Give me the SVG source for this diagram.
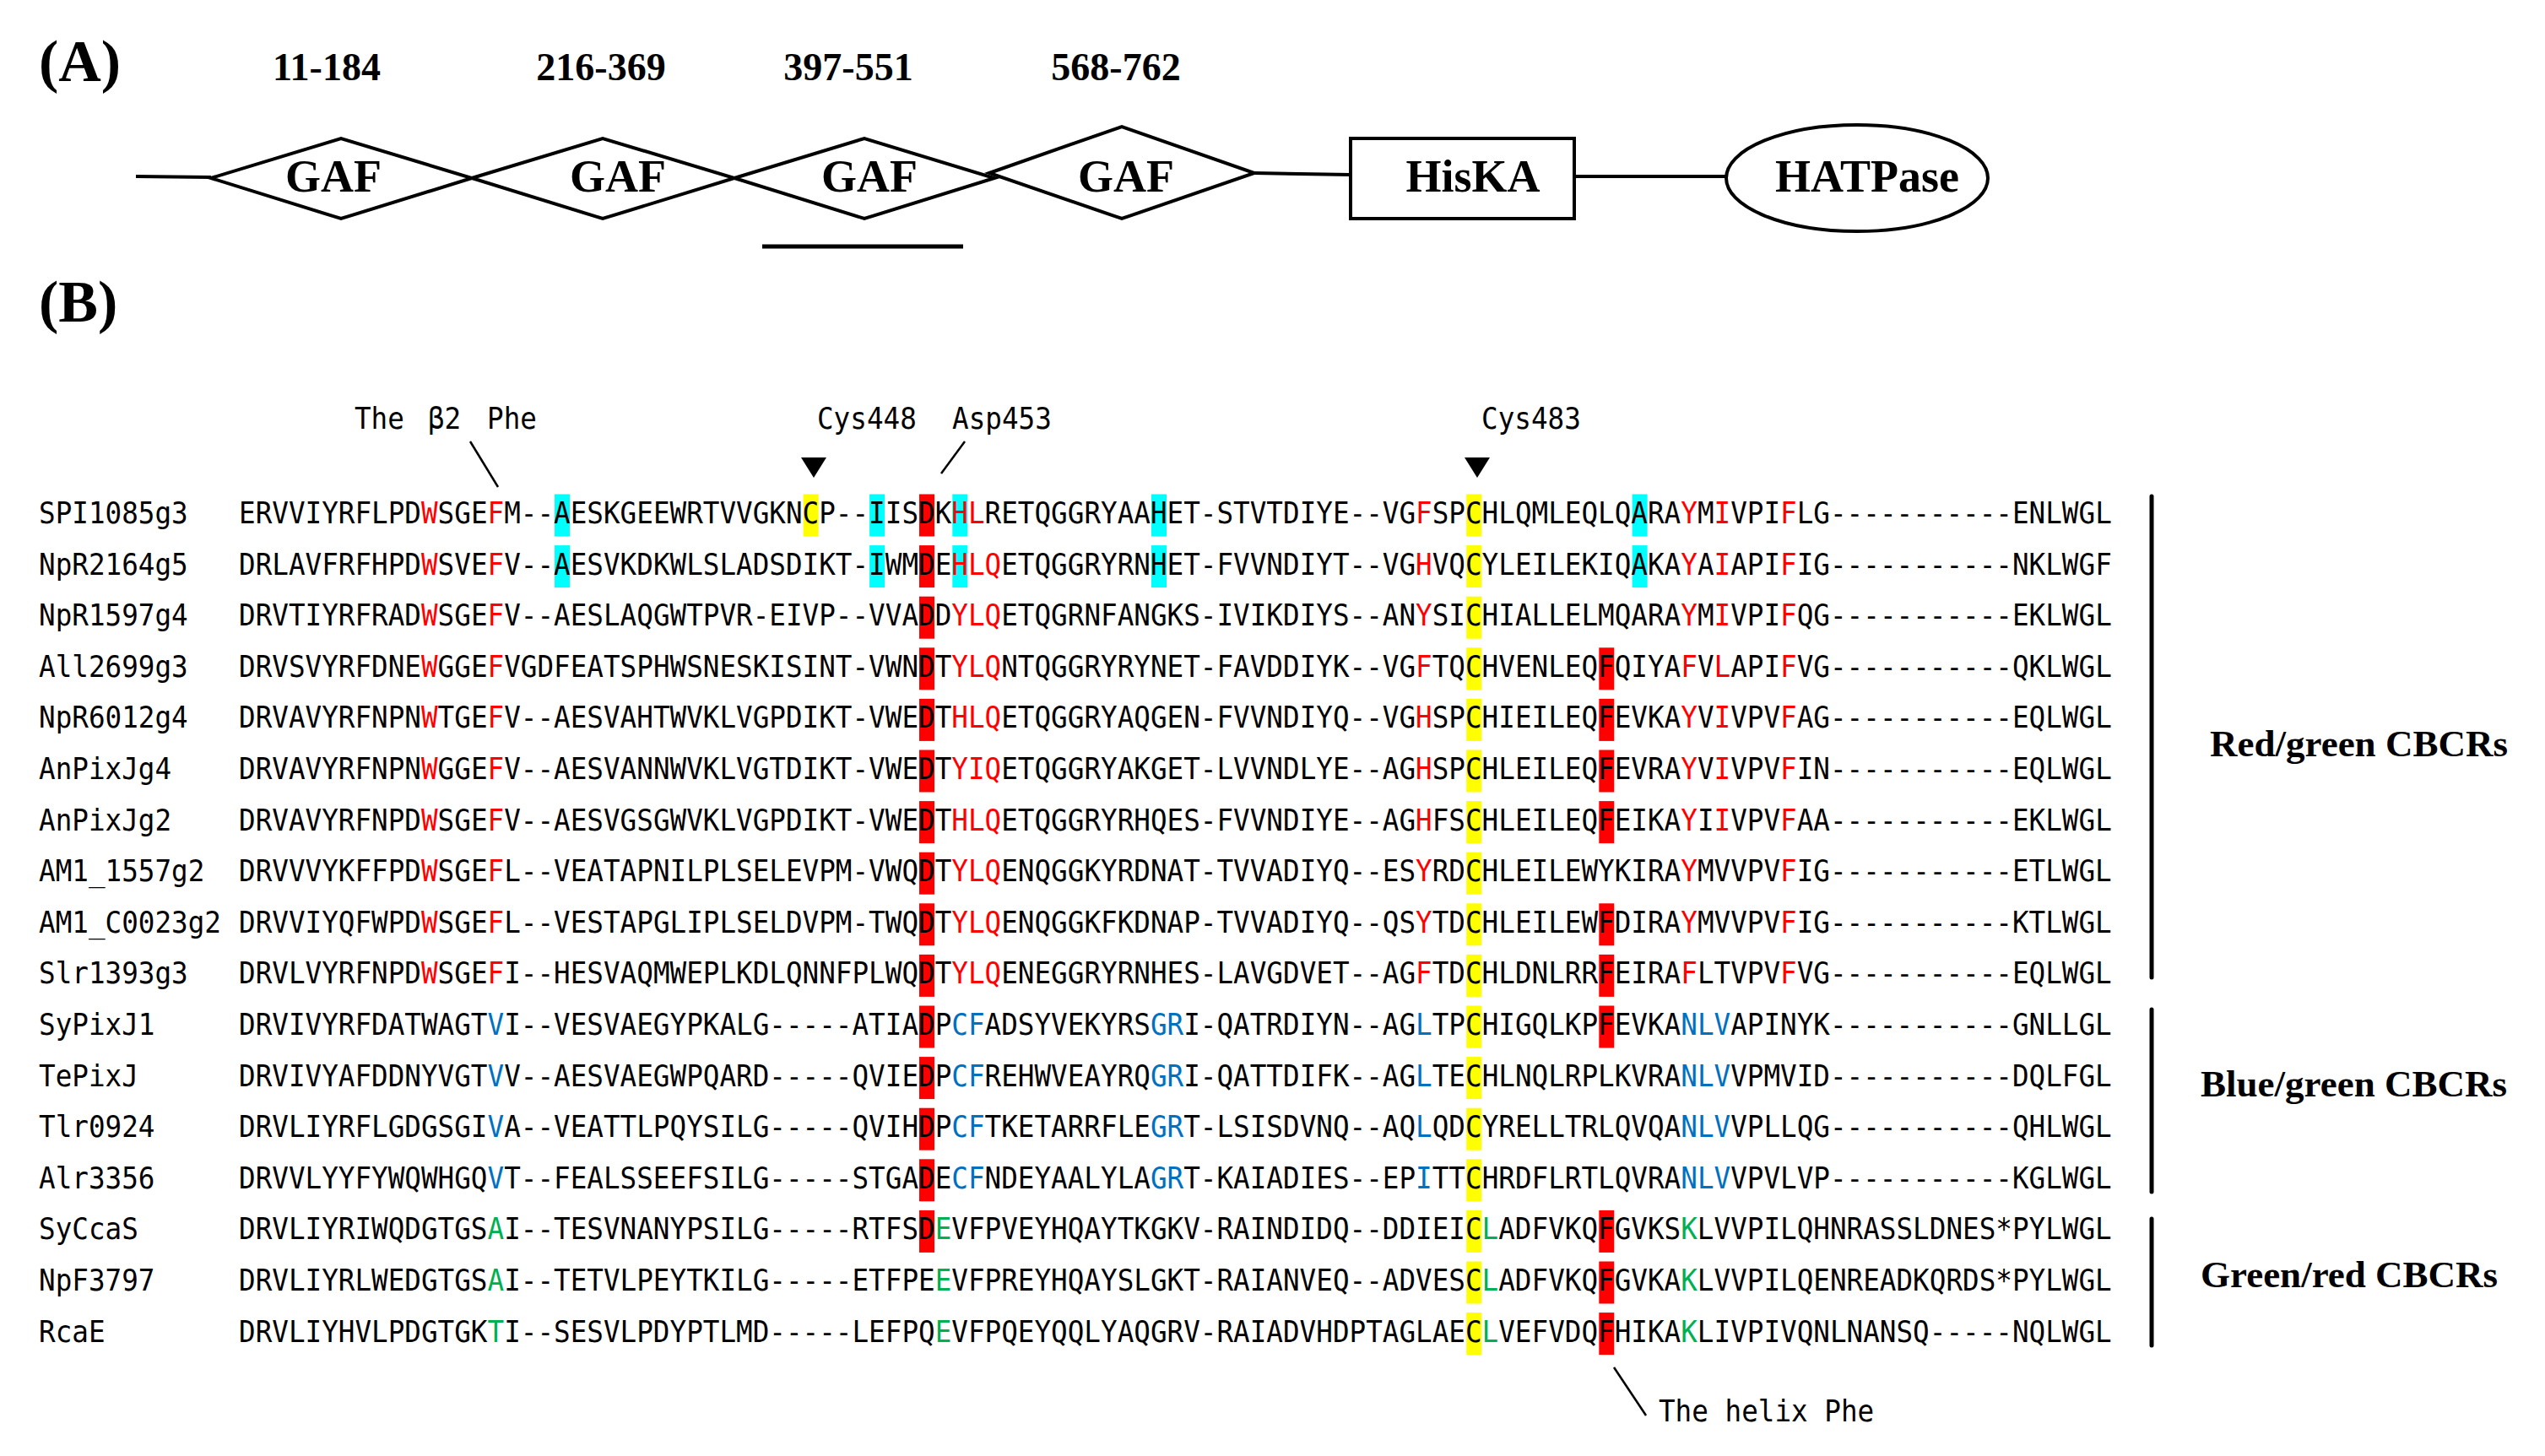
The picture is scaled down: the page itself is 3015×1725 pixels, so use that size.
<svg xmlns="http://www.w3.org/2000/svg" width="3015" height="1725" viewBox="0 0 3015 1725">
<style>
.bg{fill:#fff}
.shape{fill:#fff;stroke:#000;stroke-width:4}
.ln{stroke:#000;stroke-width:4;fill:none}
.ptr{stroke:#000;stroke-width:2.5;fill:none}
.brk{stroke:#000;stroke-width:5;stroke-linecap:round}
.tb{font-family:"Liberation Serif","Times New Roman",serif;font-weight:bold;fill:#000}
.lab{font-size:46px;text-anchor:middle}
.dom{font-size:54px;text-anchor:middle}
.pan{font-size:70px}
.grp{font-size:45px}
.mono{font-family:"DejaVu Sans Mono","Liberation Mono",monospace;font-size:36px;fill:#000}
.r{fill:#ff0000}
.b{fill:#0070c0}
.g{fill:#00b050}
.hc{fill:#00ffff}
.hy{fill:#ffff00}
.hr{fill:#ff0000}
</style>
<rect class="bg" x="0" y="0" width="3015" height="1725"/>

<!-- Panel A -->
<text class="tb pan" x="46" y="96">(A)</text>
<text class="tb lab" x="387" y="95">11-184</text>
<text class="tb lab" x="712" y="95">216-369</text>
<text class="tb lab" x="1005" y="95">397-551</text>
<text class="tb lab" x="1322" y="95">568-762</text>

<g id="connectors">
<line class="ln" x1="161" y1="209" x2="250" y2="210"/>
<line class="ln" x1="1486" y1="205" x2="1600" y2="207"/>
<line class="ln" x1="1865" y1="209" x2="2045" y2="209"/>
<line x1="903" y1="292" x2="1141" y2="292" stroke="#000" stroke-width="5"/>
<line class="ptr" x1="557" y1="523" x2="590" y2="577"/>
<line class="ptr" x1="1143" y1="523" x2="1115" y2="561"/>
<line class="ptr" x1="1912" y1="1620" x2="1950" y2="1677"/>
</g>

<g id="gaf1"><polygon class="shape" points="250,211 404,164 559,211 404,259"/><text class="tb dom" x="395" y="227">GAF</text></g>
<g id="gaf2"><polygon class="shape" points="559,211 714,164 870,211 714,259"/><text class="tb dom" x="732" y="227">GAF</text></g>
<g id="gaf3"><polygon class="shape" points="870,211 1024,164 1178,211 1024,259"/><text class="tb dom" x="1030" y="227">GAF</text></g>
<g id="gaf4"><polygon class="shape" points="1172,205 1329,150 1486,205 1329,259"/><text class="tb dom" x="1334" y="227">GAF</text></g>
<g id="hiska"><rect class="shape" x="1600" y="164" width="265" height="95"/><text class="tb dom" x="1745" y="227">HisKA</text></g>
<g id="hatpase"><ellipse class="shape" cx="2200" cy="211" rx="155" ry="63"/><text class="tb dom" x="2212" y="227">HATPase</text></g>

<!-- Panel B -->
<text class="tb pan" x="46" y="381">(B)</text>

<g id="markers">
<polygon points="949,542 979,542 964,566" fill="#000"/>
<polygon points="1735,542 1765,542 1750,566" fill="#000"/>
</g>

<g id="highlights">
<!-- row1 -->
<rect class="hc" x="657" y="585.5" width="18" height="50"/>
<rect class="hy" x="951.6" y="585.5" width="18" height="50"/>
<rect class="hc" x="1030.1" y="585.5" width="18" height="50"/>
<rect class="hr" x="1089" y="585.5" width="18" height="50"/>
<rect class="hc" x="1128.3" y="585.5" width="18" height="50"/>
<rect class="hc" x="1364" y="585.5" width="18" height="50"/>
<rect class="hy" x="1737.2" y="585.5" width="18" height="50"/>
<rect class="hc" x="1933.6" y="585.5" width="18" height="50"/>
<!-- row2 -->
<rect class="hc" x="657" y="646.1" width="18" height="50"/>
<rect class="hc" x="1030.1" y="646.1" width="18" height="50"/>
<rect class="hr" x="1089" y="646.1" width="18" height="50"/>
<rect class="hc" x="1128.3" y="646.1" width="18" height="50"/>
<rect class="hc" x="1364" y="646.1" width="18" height="50"/>
<rect class="hy" x="1737.2" y="646.1" width="18" height="50"/>
<rect class="hc" x="1933.6" y="646.1" width="18" height="50"/>
<!-- row3 -->
<rect class="hr" x="1089" y="706.7" width="18" height="50"/>
<rect class="hy" x="1737.2" y="706.7" width="18" height="50"/>
<!-- row4 -->
<rect class="hr" x="1089" y="767.3" width="18" height="50"/>
<rect class="hy" x="1737.2" y="767.3" width="18" height="50"/>
<rect class="hr" x="1894.3" y="767.3" width="18" height="50"/>
<!-- row5 -->
<rect class="hr" x="1089" y="827.9" width="18" height="50"/>
<rect class="hy" x="1737.2" y="827.9" width="18" height="50"/>
<rect class="hr" x="1894.3" y="827.9" width="18" height="50"/>
<!-- row6 -->
<rect class="hr" x="1089" y="888.5" width="18" height="50"/>
<rect class="hy" x="1737.2" y="888.5" width="18" height="50"/>
<rect class="hr" x="1894.3" y="888.5" width="18" height="50"/>
<!-- row7 -->
<rect class="hr" x="1089" y="949.1" width="18" height="50"/>
<rect class="hy" x="1737.2" y="949.1" width="18" height="50"/>
<rect class="hr" x="1894.3" y="949.1" width="18" height="50"/>
<!-- row8 -->
<rect class="hr" x="1089" y="1009.7" width="18" height="50"/>
<rect class="hy" x="1737.2" y="1009.7" width="18" height="50"/>
<!-- row9 -->
<rect class="hr" x="1089" y="1070.3" width="18" height="50"/>
<rect class="hy" x="1737.2" y="1070.3" width="18" height="50"/>
<rect class="hr" x="1894.3" y="1070.3" width="18" height="50"/>
<!-- row10 -->
<rect class="hr" x="1089" y="1130.9" width="18" height="50"/>
<rect class="hy" x="1737.2" y="1130.9" width="18" height="50"/>
<rect class="hr" x="1894.3" y="1130.9" width="18" height="50"/>
<!-- row11 -->
<rect class="hr" x="1089" y="1191.5" width="18" height="50"/>
<rect class="hy" x="1737.2" y="1191.5" width="18" height="50"/>
<rect class="hr" x="1894.3" y="1191.5" width="18" height="50"/>
<!-- row12 -->
<rect class="hr" x="1089" y="1252.1" width="18" height="50"/>
<rect class="hy" x="1737.2" y="1252.1" width="18" height="50"/>
<!-- row13 -->
<rect class="hr" x="1089" y="1312.7" width="18" height="50"/>
<rect class="hy" x="1737.2" y="1312.7" width="18" height="50"/>
<!-- row14 -->
<rect class="hr" x="1089" y="1373.3" width="18" height="50"/>
<rect class="hy" x="1737.2" y="1373.3" width="18" height="50"/>
<!-- row15 -->
<rect class="hr" x="1089" y="1433.9" width="18" height="50"/>
<rect class="hy" x="1737.2" y="1433.9" width="18" height="50"/>
<rect class="hr" x="1894.3" y="1433.9" width="18" height="50"/>
<!-- row16 -->
<rect class="hy" x="1737.2" y="1494.5" width="18" height="50"/>
<rect class="hr" x="1894.3" y="1494.5" width="18" height="50"/>
<!-- row17 -->
<rect class="hy" x="1737.2" y="1555.1" width="18" height="50"/>
<rect class="hr" x="1894.3" y="1555.1" width="18" height="50"/>
</g>

<g id="alignment" transform="scale(0.9061 1)">
<text class="mono" x="463.5" y="508">The<tspan x="559.5">β2</tspan><tspan x="636.8">Phe</tspan></text>
<text class="mono" x="1068.3" y="508">Cys448</text>
<text class="mono" x="1244.9" y="508">Asp453</text>
<text class="mono" x="1936.9" y="508">Cys483</text>
<text class="mono" x="2168.6" y="1684">The helix Phe</text>

<g id="names">
<text class="mono" x="50.77" y="620">SPI1085g3</text>
<text class="mono" x="50.77" y="680.6">NpR2164g5</text>
<text class="mono" x="50.77" y="741.2">NpR1597g4</text>
<text class="mono" x="50.77" y="801.8">All2699g3</text>
<text class="mono" x="50.77" y="862.4">NpR6012g4</text>
<text class="mono" x="50.77" y="923">AnPixJg4</text>
<text class="mono" x="50.77" y="983.6">AnPixJg2</text>
<text class="mono" x="50.77" y="1044.2">AM1_1557g2</text>
<text class="mono" x="50.77" y="1104.8">AM1_C0023g2</text>
<text class="mono" x="50.77" y="1165.4">Slr1393g3</text>
<text class="mono" x="50.77" y="1226">SyPixJ1</text>
<text class="mono" x="50.77" y="1286.6">TePixJ</text>
<text class="mono" x="50.77" y="1347.2">Tlr0924</text>
<text class="mono" x="50.77" y="1407.8">Alr3356</text>
<text class="mono" x="50.77" y="1468.4">SyCcaS</text>
<text class="mono" x="50.77" y="1529">NpF3797</text>
<text class="mono" x="50.77" y="1589.6">RcaE</text>
</g>

<g id="sequences">
<text class="mono" x="312.33" y="620">ERVVIYRFLPD<tspan class="r">W</tspan>SGE<tspan class="r">F</tspan>M--AESKGEEWRTVVGKNCP--IISDK<tspan class="r">HL</tspan>RETQGGRYAAHET-STVTDIYE--VG<tspan class="r">F</tspan>SPCHLQMLEQLQARA<tspan class="r">Y</tspan>M<tspan class="r">I</tspan>VPI<tspan class="r">F</tspan>LG-----------ENLWGL</text>
<text class="mono" x="312.33" y="680.6">DRLAVFRFHPD<tspan class="r">W</tspan>SVE<tspan class="r">F</tspan>V--AESVKDKWLSLADSDIKT-IWMDE<tspan class="r">HLQ</tspan>ETQGGRYRNHET-FVVNDIYT--VG<tspan class="r">H</tspan>VQCYLEILEKIQAKA<tspan class="r">Y</tspan>A<tspan class="r">I</tspan>API<tspan class="r">F</tspan>IG-----------NKLWGF</text>
<text class="mono" x="312.33" y="741.2">DRVTIYRFRAD<tspan class="r">W</tspan>SGE<tspan class="r">F</tspan>V--AESLAQGWTPVR-EIVP--VVADD<tspan class="r">YLQ</tspan>ETQGRNFANGKS-IVIKDIYS--AN<tspan class="r">Y</tspan>SICHIALLELMQARA<tspan class="r">Y</tspan>M<tspan class="r">I</tspan>VPI<tspan class="r">F</tspan>QG-----------EKLWGL</text>
<text class="mono" x="312.33" y="801.8">DRVSVYRFDNE<tspan class="r">W</tspan>GGE<tspan class="r">F</tspan>VGDFEATSPHWSNESKISINT-VWNDT<tspan class="r">YLQ</tspan>NTQGGRYRYNET-FAVDDIYK--VG<tspan class="r">F</tspan>TQCHVENLEQFQIYA<tspan class="r">F</tspan>V<tspan class="r">L</tspan>API<tspan class="r">F</tspan>VG-----------QKLWGL</text>
<text class="mono" x="312.33" y="862.4">DRVAVYRFNPN<tspan class="r">W</tspan>TGE<tspan class="r">F</tspan>V--AESVAHTWVKLVGPDIKT-VWEDT<tspan class="r">HLQ</tspan>ETQGGRYAQGEN-FVVNDIYQ--VG<tspan class="r">H</tspan>SPCHIEILEQFEVKA<tspan class="r">Y</tspan>V<tspan class="r">I</tspan>VPV<tspan class="r">F</tspan>AG-----------EQLWGL</text>
<text class="mono" x="312.33" y="923">DRVAVYRFNPN<tspan class="r">W</tspan>GGE<tspan class="r">F</tspan>V--AESVANNWVKLVGTDIKT-VWEDT<tspan class="r">YIQ</tspan>ETQGGRYAKGET-LVVNDLYE--AG<tspan class="r">H</tspan>SPCHLEILEQFEVRA<tspan class="r">Y</tspan>V<tspan class="r">I</tspan>VPV<tspan class="r">F</tspan>IN-----------EQLWGL</text>
<text class="mono" x="312.33" y="983.6">DRVAVYRFNPD<tspan class="r">W</tspan>SGE<tspan class="r">F</tspan>V--AESVGSGWVKLVGPDIKT-VWEDT<tspan class="r">HLQ</tspan>ETQGGRYRHQES-FVVNDIYE--AG<tspan class="r">H</tspan>FSCHLEILEQFEIKA<tspan class="r">Y</tspan>I<tspan class="r">I</tspan>VPV<tspan class="r">F</tspan>AA-----------EKLWGL</text>
<text class="mono" x="312.33" y="1044.2">DRVVVYKFFPD<tspan class="r">W</tspan>SGE<tspan class="r">F</tspan>L--VEATAPNILPLSELEVPM-VWQDT<tspan class="r">YLQ</tspan>ENQGGKYRDNAT-TVVADIYQ--ES<tspan class="r">Y</tspan>RDCHLEILEWYKIRA<tspan class="r">Y</tspan>MVVPV<tspan class="r">F</tspan>IG-----------ETLWGL</text>
<text class="mono" x="312.33" y="1104.8">DRVVIYQFWPD<tspan class="r">W</tspan>SGE<tspan class="r">F</tspan>L--VESTAPGLIPLSELDVPM-TWQDT<tspan class="r">YLQ</tspan>ENQGGKFKDNAP-TVVADIYQ--QS<tspan class="r">Y</tspan>TDCHLEILEWFDIRA<tspan class="r">Y</tspan>MVVPV<tspan class="r">F</tspan>IG-----------KTLWGL</text>
<text class="mono" x="312.33" y="1165.4">DRVLVYRFNPD<tspan class="r">W</tspan>SGE<tspan class="r">F</tspan>I--HESVAQMWEPLKDLQNNFPLWQDT<tspan class="r">YLQ</tspan>ENEGGRYRNHES-LAVGDVET--AG<tspan class="r">F</tspan>TDCHLDNLRRFEIRA<tspan class="r">F</tspan>LTVPV<tspan class="r">F</tspan>VG-----------EQLWGL</text>
<text class="mono" x="312.33" y="1226">DRVIVYRFDATWAGT<tspan class="b">V</tspan>I--VESVAEGYPKALG-----ATIADP<tspan class="b">CF</tspan>ADSYVEKYRS<tspan class="b">GR</tspan>I-QATRDIYN--AG<tspan class="b">L</tspan>TPCHIGQLKPFEVKA<tspan class="b">NLV</tspan>APINYK-----------GNLLGL</text>
<text class="mono" x="312.33" y="1286.6">DRVIVYAFDDNYVGT<tspan class="b">V</tspan>V--AESVAEGWPQARD-----QVIEDP<tspan class="b">CF</tspan>REHWVEAYRQ<tspan class="b">GR</tspan>I-QATTDIFK--AG<tspan class="b">L</tspan>TECHLNQLRPLKVRA<tspan class="b">NLV</tspan>VPMVID-----------DQLFGL</text>
<text class="mono" x="312.33" y="1347.2">DRVLIYRFLGDGSGI<tspan class="b">V</tspan>A--VEATTLPQYSILG-----QVIHDP<tspan class="b">CF</tspan>TKETARRFLE<tspan class="b">GR</tspan>T-LSISDVNQ--AQ<tspan class="b">L</tspan>QDCYRELLTRLQVQA<tspan class="b">NLV</tspan>VPLLQG-----------QHLWGL</text>
<text class="mono" x="312.33" y="1407.8">DRVVLYYFYWQWHGQ<tspan class="b">V</tspan>T--FEALSSEEFSILG-----STGADE<tspan class="b">CF</tspan>NDEYAALYLA<tspan class="b">GR</tspan>T-KAIADIES--EP<tspan class="b">I</tspan>TTCHRDFLRTLQVRA<tspan class="b">NLV</tspan>VPVLVP-----------KGLWGL</text>
<text class="mono" x="312.33" y="1468.4">DRVLIYRIWQDGTGS<tspan class="g">A</tspan>I--TESVNANYPSILG-----RTFSD<tspan class="g">E</tspan>VFPVEYHQAYTKGKV-RAINDIDQ--DDIEIC<tspan class="g">L</tspan>ADFVKQFGVKS<tspan class="g">K</tspan>LVVPILQHNRASSLDNES*PYLWGL</text>
<text class="mono" x="312.33" y="1529">DRVLIYRLWEDGTGS<tspan class="g">A</tspan>I--TETVLPEYTKILG-----ETFPE<tspan class="g">E</tspan>VFPREYHQAYSLGKT-RAIANVEQ--ADVESC<tspan class="g">L</tspan>ADFVKQFGVKA<tspan class="g">K</tspan>LVVPILQENREADKQRDS*PYLWGL</text>
<text class="mono" x="312.33" y="1589.6">DRVLIYHVLPDGTGK<tspan class="g">T</tspan>I--SESVLPDYPTLMD-----LEFPQ<tspan class="g">E</tspan>VFPQEYQQLYAQGRV-RAIADVHDPTAGLAEC<tspan class="g">L</tspan>VEFVDQFHIKA<tspan class="g">K</tspan>LIVPIVQNLNANSQ-----NQLWGL</text>
</g>
</g>

<g id="groups">
<line class="brk" x1="2549" y1="588" x2="2549" y2="1158"/>
<line class="brk" x1="2549" y1="1196" x2="2549" y2="1412"/>
<line class="brk" x1="2549" y1="1444" x2="2549" y2="1594"/>
<text class="tb grp" x="2618" y="896">Red/green CBCRs</text>
<text class="tb grp" x="2607" y="1299">Blue/green CBCRs</text>
<text class="tb grp" x="2607" y="1525">Green/red CBCRs</text>
</g>
</svg>
